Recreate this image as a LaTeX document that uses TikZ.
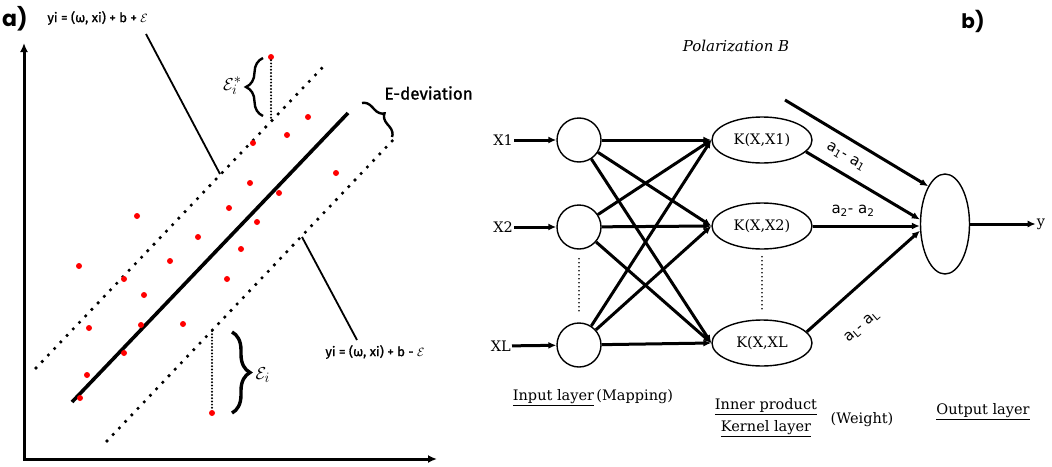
\documentclass[tikz,border=0pt]{standalone}
\usepackage{fontspec}
\setmainfont{DejaVu Serif}
\newfontfamily\handfont[FakeBold=1.2]{Fira Sans}
\newfontfamily\tagfont{Poppins}
\newfontfamily\wfont{DejaVu Sans}
\usetikzlibrary{arrows.meta,decorations.pathreplacing,shapes.geometric}
\newcommand{\wpair}[1]{a\textsubscript{#1}- a\textsubscript{#1}}
\tikzset{
 axisline/.style={line width=3pt,{Latex[length=9pt,width=8pt]}-{Latex[length=9pt,width=8pt]}},
 fitline/.style={line width=3.6pt},
 marginline/.style={line width=3.6pt,line cap=round,dash pattern=on 0pt off 9pt},
 gapline/.style={line width=2.2pt,line cap=round,dash pattern=on 0pt off 3.2pt},
 pointer/.style={line width=1.8pt},
 datapt/.style={circle,fill=red,inner sep=0pt,minimum size=6pt},
 bracebox/.style={decorate,decoration={brace,amplitude=#1},line width=2.4pt},
 hand/.style={font=\handfont\fontsize{13}{15}\selectfont},
 tag/.style={font=\tagfont\bfseries\fontsize{22}{24}\selectfont,inner sep=0pt},
 conn/.style={line width=3pt,-{Latex[length=8pt,width=7pt]}},
 neuron/.style={circle,draw,line width=1.4pt,minimum size=44pt,inner sep=0pt},
 kernel/.style={ellipse,draw,line width=1.4pt,minimum width=100pt,minimum height=46pt,inner sep=0pt,font=\fontsize{14.5}{16}\selectfont},
 outnode/.style={ellipse,draw,line width=1.4pt,minimum width=49pt,minimum height=100pt,inner sep=0pt},
 vdots/.style={line width=1.8pt,line cap=round,dash pattern=on 0pt off 4pt},
 lbl/.style={font=\fontsize{14.5}{16}\selectfont,inner sep=1pt},
 weight/.style={font=\wfont\fontsize{15}{17}\selectfont,inner sep=0pt},
}
\begin{document}
\begin{tikzpicture}[x=1pt,y=-1pt]
\useasboundingbox (0,0) rectangle (1052,466);
% ---------- panel a ----------
\node[tag,anchor=west] (taga) at (2,19) {a)};
\node[hand,anchor=west] (upeq) at (44,18) {yi = (ω, xi) + b + $\mathcal{E}$};
\node[hand] (loweq) at (375,352) {yi = (ω, xi) + b - $\mathcal{E}$};
\node[hand,font=\handfont\fontsize{17}{19}\selectfont,anchor=west] (edev) at (381,93) {E-deviation};
\node[font=\fontsize{19}{21}\selectfont,anchor=east] (epsstar) at (245,86) {$\mathcal{E}_i^{*}$};
\node[font=\fontsize{19}{21}\selectfont,anchor=west] (eps) at (252,375) {$\mathcal{E}_i$};

\coordinate (ytop) at (24,43);
\coordinate (orig) at (24,459);
\coordinate (xend) at (437,459);
\draw[axisline] (ytop) -- (orig) -- (xend);

\coordinate (fitA) at (72,402);
\coordinate (fitB) at (348,113);
\coordinate (upA) at (36,368);
\coordinate (upB) at (322,68);
\coordinate (loA) at (107,441);
\coordinate (loB) at (393,140);
\draw[fitline] (fitA) -- (fitB);
\draw[marginline] (upA) -- (upB);
\draw[marginline] (loA) -- (loB);

\coordinate (pu1) at (146,34);
\coordinate (pu2) at (220,174);
\coordinate (pl1) at (302,237);
\coordinate (pl2) at (357,340);
\draw[pointer] (pu1) -- (pu2);
\draw[pointer] (pl1) -- (pl2);

\foreach \px/\py [count=\n] in {271/57,308/117,287/135,253/143,336/173,250/183,279/193,229/208,257/222,137/216,198/237,79/266,170/261,241/249,124/279,227/279,144/295,89/328,141/325,183/324,124/353,87/375,80/398,212/413}
  \node[datapt] (p\n) at (\px,\py) {};

\coordinate (gs1) at (271,119);
\coordinate (gs2) at (212,331);
\draw[gapline] (p1) -- (gs1);
\draw[gapline] (gs2) -- (p24);

\coordinate (b1a) at (263,116);
\coordinate (b1b) at (263,58);
\draw[bracebox=17pt,line width=2.4pt] (b1a) -- (b1b);
\coordinate (b2a) at (232,332);
\coordinate (b2b) at (232,413);
\draw[bracebox=18pt,line width=3.4pt] (b2a) -- (b2b);
\coordinate (b3a) at (362,103);
\coordinate (b3b) at (392,137);
\draw[bracebox=10pt,line width=2.4pt] (b3a) -- (b3b);

% ---------- panel b ----------
\node[tag,font=\tagfont\bfseries\fontsize{20}{22}\selectfont] (tagb) at (973,21) {b)};
\node[lbl,font=\itshape\fontsize{15}{17}\selectfont] (pol) at (736,46) {Polarization B};

\node[neuron] (i1) at (579,140) {};
\node[neuron] (i2) at (579,227) {};
\node[neuron] (iL) at (579,345) {};
\node[lbl,anchor=east] (x1) at (514,140) {X1};
\node[lbl,anchor=east] (x2) at (514,227) {X2};
\node[lbl,anchor=east] (xL) at (512,346) {XL};
\draw[conn] (x1) -- (i1);
\draw[conn] (x2) -- (i2);
\draw[conn] (xL) -- (iL);

\node[kernel] (k1) at (762,140) {K(X,X1)};
\node[kernel] (k2) at (762,226) {K(X,X2)};
\node[kernel] (kL) at (762,343) {K(X,XL};

\foreach \s in {i1,i2,iL}
  \foreach \t in {k1,k2,kL}
    \draw[conn] (\s) -- (\t.west);

\draw[vdots] ([yshift=-9pt]i2.south) -- ([yshift=10pt]iL.north);
\draw[vdots] ([yshift=-7pt]k2.south) -- ([yshift=7pt]kL.north);

\node[outnode] (out) at (945,224) {};
\node[lbl] (ylab) at (1041,224) {y};
\draw[conn] (out) -- (ylab);
\draw[conn] (k1.-15) -- (out.170);
\draw[conn] (k2.east) -- (k2.east -| out.west);
\draw[conn] (kL.14) -- (out.195);
\coordinate (bias) at (785,100);
\draw[conn] (bias) -- (out.114);

\node[weight,rotate=-30] (w1) at (846,157) {\wpair{1}};
\node[weight] (w2) at (853,211) {\wpair{2}};
\node[weight,rotate=41] (wL) at (862,327) {\wpair{L}};

\node[lbl] (inlab) at (593,398) {\underline{Input layer}\,(Mapping)};
\node[lbl,align=center,font=\fontsize{14.5}{22}\selectfont] (kerlab) at (766,418) {\underline{Inner product}\\\underline{Kernel layer}};
\node[lbl] (wlab) at (862,420) {(Weight)};
\node[lbl] (outlab) at (983,412) {\underline{Output layer}};
\end{tikzpicture}
\end{document}
